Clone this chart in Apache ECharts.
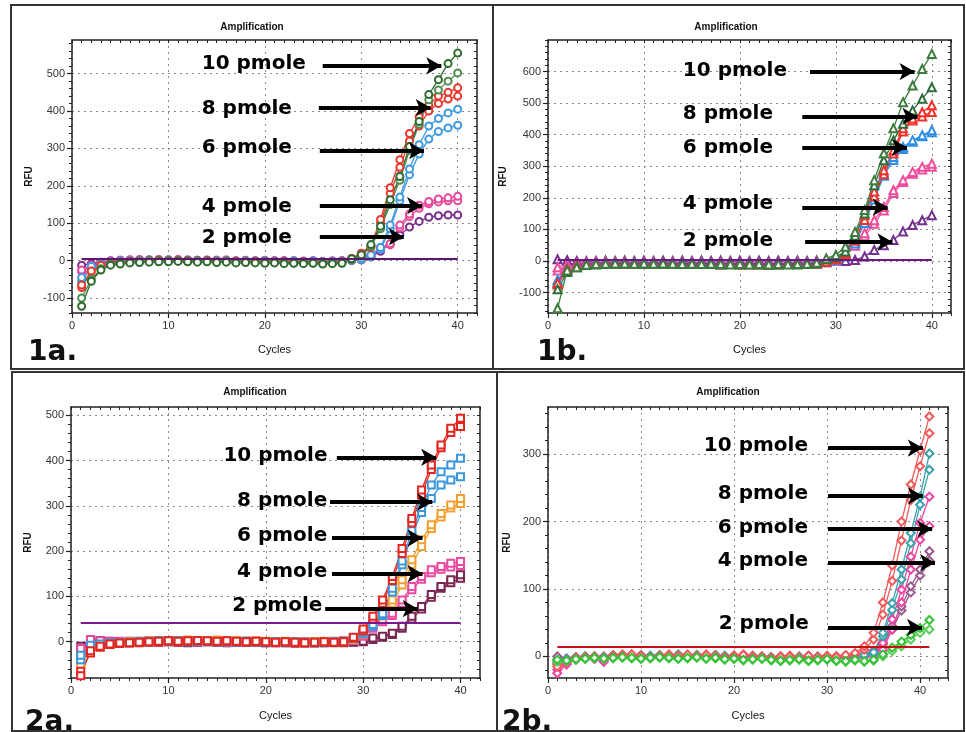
<!DOCTYPE html>
<html>
<head>
<meta charset="utf-8">
<title>Amplification</title>
<script src="https://cdn.jsdelivr.net/npm/echarts@6/dist/echarts.min.js"></script>
<style>
  html, body { margin: 0; padding: 0; background: #fff; }
  #main { width: 966px; height: 732px; }
</style>
</head>
<body>
<div id="main"></div>
<script>
// cycle numbers (x)
var cycles = [1,2,3,4,5,6,7,8,9,10,11,12,13,14,15,16,17,18,19,20,21,22,23,24,25,26,27,28,29,30,31,32,33,34,35,36,37,38,39,40,41];

// ---- 1a (circles) ----
var g1_1a = [-122,-55,-25,-12,-9,-6,-5,-4,-3,-3,-2,-3,-4,-3,-5,-4,-6,-5,-6,-7,-6,-8,-7,-8,-7,-9,-8,-7,5,16,43,92,163,225,305,372,444,484,527,555];
var g2_1a = [-100,-50,-22,-10,-7,-4,-2,-1,0,-1,0,-2,-1,-2,-3,-2,-4,-3,-4,-5,-4,-5,-6,-5,-6,-7,-6,-5,3,12,38,85,150,215,295,365,430,456,480,502];
var r1_1a = [-65,-28,-12,-6,-4,-2,-1,0,1,0,1,0,-1,0,-2,-1,-2,-3,-2,-3,-4,-3,-4,-3,-5,-4,-5,-3,6,20,40,110,195,270,340,385,415,440,450,462];
var r2_1a = [-72,-30,-14,-7,-5,-3,-2,-1,0,-1,0,-1,-2,-1,-2,-2,-3,-2,-3,-4,-3,-4,-5,-4,-5,-5,-6,-4,4,16,35,100,180,250,320,360,400,420,432,440];
var b1_1a = [-45,-15,-8,-3,-1,0,1,2,1,2,1,2,0,1,0,1,-1,0,-1,0,-1,-2,-1,-2,-1,-3,-2,-1,2,5,15,35,95,170,245,310,360,380,395,405];
var b2_1a = [-55,-18,-10,-4,-2,-1,0,1,0,1,0,1,-1,0,-1,0,-2,-1,-2,-1,-2,-3,-2,-3,-2,-4,-3,-2,1,3,10,30,85,160,230,285,325,345,355,362];
var p1_1a = [-25,-12,-5,-1,1,2,3,2,3,2,3,2,1,2,1,2,0,1,0,1,0,-1,0,-1,0,-2,-1,0,1,3,15,35,45,95,125,148,158,165,168,172];
var p2_1a = [-30,-15,-6,-2,0,1,2,1,2,1,2,1,0,1,0,1,-1,0,-1,0,-1,-2,-1,-2,-1,-3,-2,-1,0,2,12,30,42,88,118,140,152,157,160,160];
var v_1a  = [-12,-8,-4,0,1,2,1,2,1,2,1,0,1,0,1,0,-1,0,-1,0,-1,0,-1,-2,-1,-2,-1,0,1,2,10,25,45,68,90,105,116,120,122,122];

// ---- 1b (triangles) ----
var g1_1b = [-150,-30,-20,-12,-10,-9,-8,-8,-9,-8,-9,-8,-9,-10,-9,-10,-9,-10,-11,-10,-11,-10,-11,-10,-11,-10,-9,-6,8,19,45,92,161,256,341,420,503,556,608,656];
var g2_1b = [-90,-35,-20,-13,-11,-10,-9,-9,-8,-9,-8,-9,-10,-9,-10,-9,-10,-11,-10,-11,-10,-11,-12,-11,-10,-11,-10,-8,5,12,30,80,150,240,319,382,435,477,514,550];
var r1_1b = [-70,-25,-15,-10,-9,-8,-7,-8,-7,-8,-9,-8,-9,-8,-9,-10,-9,-10,-9,-10,-11,-10,-11,-10,-9,-10,-9,-8,-2,8,25,75,145,220,287,350,420,451,471,493];
var r2_1b = [-75,-28,-16,-11,-10,-9,-8,-9,-8,-9,-8,-9,-10,-9,-10,-9,-10,-11,-10,-11,-10,-11,-10,-11,-10,-9,-10,-8,-3,6,20,65,130,205,275,340,410,445,458,472];
var b1_1b = [-60,-22,-14,-9,-8,-7,-6,-7,-6,-7,-8,-7,-8,-7,-8,-9,-8,-9,-8,-9,-10,-9,-10,-9,-8,-9,-8,-7,-3,5,20,65,130,205,280,329,361,382,398,414];
var b2_1b = [-65,-24,-15,-10,-9,-8,-7,-8,-7,-8,-7,-8,-9,-8,-9,-8,-9,-10,-9,-10,-9,-10,-9,-10,-9,-8,-9,-7,-4,3,15,55,120,195,270,320,355,378,395,408];
var p1_1b = [-20,-10,-8,-6,-5,-4,-5,-4,-5,-6,-5,-6,-5,-6,-7,-6,-7,-6,-7,-8,-7,-8,-7,-8,-7,-6,-7,-5,-3,2,25,57,88,129,171,224,256,282,298,308];
var p2_1b = [-30,-14,-9,-7,-6,-5,-6,-5,-6,-5,-6,-7,-6,-7,-6,-7,-8,-7,-8,-7,-8,-7,-8,-9,-8,-7,-6,-5,-4,0,18,48,78,118,160,215,250,276,290,298];
var v_1b  = [5,2,0,-1,0,1,0,1,0,1,0,1,0,1,0,1,0,1,0,1,0,1,0,1,0,1,0,1,0,1,0,3,14,35,50,66,93,114,129,145];

// ---- 2a (squares) ----
var r1_2a = [-75,-20,-10,-5,-3,-2,-1,0,1,2,1,2,3,2,1,2,1,0,1,0,-1,0,-1,-2,-1,0,-1,0,10,28,56,92,144,206,272,335,390,434,471,493];
var r2_2a = [-65,-25,-12,-6,-4,-3,-2,-1,0,1,0,1,2,1,0,1,0,-1,0,-1,-2,-1,-2,-3,-2,-1,-2,-1,8,24,50,85,135,195,262,325,380,428,462,475];
var b1_2a = [-30,-8,-5,-3,-2,-1,0,1,2,1,2,1,2,1,0,1,0,1,0,-1,0,-1,0,-1,-2,-1,0,1,9,22,38,62,118,178,245,296,346,375,390,405];
var b2_2a = [-40,-10,-6,-4,-3,-2,-1,0,1,0,1,0,1,0,-1,0,-1,0,-1,-2,-1,-2,-1,-2,-3,-2,-1,0,7,18,34,58,110,170,235,285,316,346,357,364];
var o1_2a = [-40,-12,-8,-4,-2,0,1,2,3,2,3,4,3,2,4,3,2,1,2,1,0,1,0,-1,0,1,0,1,6,20,41,63,92,137,181,225,258,283,302,316];
var o2_2a = [-50,-15,-9,-5,-3,-1,0,1,2,1,2,3,2,1,3,2,1,0,1,0,-1,0,-1,-2,-1,0,-1,0,5,17,36,57,85,125,170,210,250,275,295,305];
var p1_2a = [-15,5,2,0,1,0,1,2,1,2,3,2,1,2,1,0,1,0,1,0,-1,0,-1,0,-1,0,1,2,5,15,34,48,63,92,122,144,159,166,173,177];
var p2_2a = [-25,2,0,-1,0,-1,0,1,0,1,2,1,0,1,0,-1,0,-1,0,-1,-2,-1,-2,-1,-2,-1,0,1,3,12,30,44,58,85,115,138,152,160,165,168];
var m1_2a = [-10,5,3,1,0,1,0,1,0,1,0,-1,0,1,0,-1,0,1,0,-1,0,-1,-2,-1,0,-1,0,-1,0,1,8,12,19,34,56,78,104,122,137,148];
var m2_2a = [-20,3,2,0,-1,0,-1,0,-1,0,-1,-2,-1,0,-1,-2,-1,0,-1,-2,-1,-2,-3,-2,-1,-2,-1,-2,-1,0,5,10,16,30,50,72,98,118,130,140];

// ---- 2b (diamonds, 41 cycles) ----
var r1_2b = [-15,-8,-3,-2,-1,-3,0,2,3,1,-1,0,2,1,3,0,2,1,-1,0,2,-1,0,-2,-1,0,-2,1,-1,0,-1,2,5,15,35,80,135,200,255,306,356];
var r2_2b = [-12,-6,-2,-1,0,-2,1,3,2,0,-2,1,3,0,2,1,3,0,-2,1,3,0,-1,-3,0,1,-3,0,-2,1,0,1,3,10,25,62,112,172,232,282,331];
var t1_2b = [-8,-5,-2,0,-1,-2,1,2,1,0,1,2,0,3,1,2,0,2,1,-1,1,0,-1,-2,0,-1,-2,0,-1,0,-2,0,1,2,6,35,79,129,183,237,301];
var t2_2b = [-10,-4,-3,-1,0,-1,0,1,2,1,0,1,-1,2,0,1,-1,1,0,-2,0,-1,-2,-1,-1,-2,-1,-1,-2,-1,-1,-1,0,1,4,30,69,114,168,225,277];
var p1_2b = [-25,-12,-4,-2,-4,-8,0,1,3,0,-2,1,0,2,-1,1,0,1,-2,0,1,-2,-1,-3,-1,0,-2,0,-1,-1,0,-2,-1,0,3,20,55,99,148,198,237];
var p2_2b = [-20,-10,-5,-3,-2,-5,1,0,2,-1,-1,0,1,0,0,2,-1,0,-1,1,0,-1,-2,-2,0,-1,-1,1,-2,0,-1,-1,-2,-1,1,10,40,80,129,173,193];
var v1_2b = [0,-3,-2,0,-1,0,2,1,0,2,0,1,0,1,2,0,1,2,0,1,0,1,0,-1,0,-1,0,-1,0,-1,0,-1,0,3,8,20,45,74,104,129,156];
var v2_2b = [-5,-4,-1,-2,0,-1,1,0,1,0,-1,0,1,0,1,-1,0,1,-1,0,-1,0,-1,-2,-1,0,-1,-2,-1,0,-1,0,1,2,6,18,40,68,95,120,142];
var g1_2b = [-5,-6,-4,-3,-2,-3,-2,-1,-2,-3,-2,-1,-2,-3,-2,-1,-3,-2,-4,-3,-5,-4,-3,-5,-6,-5,-4,-6,-5,-4,-6,-7,-5,-7,-5,3,13,22,32,42,54];
var g2_2b = [-8,-7,-5,-4,-3,-4,-3,-2,-3,-4,-3,-2,-3,-4,-3,-2,-4,-3,-5,-4,-6,-5,-4,-6,-7,-6,-5,-7,-6,-5,-7,-8,-6,-8,-6,0,8,15,25,35,40];

// tick labels
var xTicks = [0, 10, 20, 30, 40];
var yTicks1a = [-100, 0, 100, 200, 300, 400, 500];
var yTicks1b = [-100, 0, 100, 200, 300, 400, 500, 600];
var yTicks2a = [0, 100, 200, 300, 400, 500];
var yTicks2b = [0, 100, 200, 300];

// threshold lines [value, last cycle]
var thresholds = [[5, 40], [5, 40], [43, 40], [15, 41]];

// annotations: [text x, text y, arrow start x, arrow end x, arrow y] (data units)
var labels = ['10 pmole', '8 pmole', '6 pmole', '4 pmole', '2 pmole'];
var notes1a = [[13.4,527,26.0,38.3,521],[13.4,406,25.6,37.2,409],[13.4,302,25.7,36.5,294],[13.4,144,25.7,36.3,147],[13.4,61,25.7,34.4,64]];
var notes1b = [[14.0,603,27.3,38.2,600],[14.0,467,26.5,38.5,458],[14.0,357,26.5,37.4,360],[14.0,180,26.5,35.4,170],[14.0,63,26.8,35.9,60]];
var notes2a = [[15.6,410,27.3,37.5,407],[17.0,310,26.6,37.1,308],[17.0,233,26.8,36.1,229],[17.0,154,26.8,36.1,150],[16.5,79,26.1,35.6,73]];
var notes2b = [[16.7,312,30.1,40.3,309],[18.2,241,30.1,40.3,238],[18.2,191,30.1,41.3,189],[18.2,142,30.1,41.6,139],[18.3,49,30.1,40.2,43]];

var panels = [
  { tag: '1a.', box: [72, 40, 405, 273], xMax: 42, yMin: -140, yMax: 590, yTicks: yTicks1a, shape: 'emptyCircle', size: 7,
    curves: [[v_1a, '#7b2d8e'], [p2_1a, '#e8489a'], [p1_1a, '#e8489a'], [b2_1a, '#3d9ae0'], [b1_1a, '#3d9ae0'],
             [r2_1a, '#e8362d'], [r1_1a, '#e8362d'], [g2_1a, '#4c8c4c'], [g1_1a, '#2d6a2d']],
    thrColor: '#5d1570', notes: notes1a, title: [252, 27], tagPos: [28, 353], rfuGap: 38, cyclesGap: 31 },
  { tag: '1b.', box: [548, 40, 403, 273], xMax: 42, yMin: -165, yMax: 700, yTicks: yTicks1b, shape: 'emptyTriangle', size: 8,
    curves: [[v_1b, '#74308f'], [p2_1b, '#ee4c9c'], [p1_1b, '#ee4c9c'], [b2_1b, '#2f8fe6'], [b1_1b, '#2f8fe6'],
             [r2_1b, '#f2302a'], [r1_1b, '#f2302a'], [g2_1b, '#2e6e3e'], [g1_1b, '#3c7c3c']],
    thrColor: '#6a1a80', notes: notes1b, title: [726, 27], tagPos: [537, 353], rfuGap: 40, cyclesGap: 31 },
  { tag: '2a.', box: [71, 407, 409, 271], xMax: 42, yMin: -80, yMax: 518, yTicks: yTicks2a, shape: 'emptyRect', size: 7,
    curves: [[m2_2a, '#7a2753'], [m1_2a, '#7a2753'], [p2_2a, '#ea4aa0'], [p1_2a, '#ea4aa0'], [o2_2a, '#f2a030'], [o1_2a, '#f2a030'],
             [b2_2a, '#3a98dd'], [b1_2a, '#3a98dd'], [r2_2a, '#e3261f'], [r1_2a, '#e3261f']],
    thrColor: '#7a1a90', notes: notes2a, title: [255, 392], tagPos: [25, 723], rfuGap: 38, cyclesGap: 32 },
  { tag: '2b.', box: [548, 407, 400, 271], xMax: 43, yMin: -32, yMax: 370, yTicks: yTicks2b, shape: 'emptyDiamond', size: 8,
    curves: [[v2_2b, '#9c5a90'], [v1_2b, '#9c5a90'], [p2_2b, '#ee44a2'], [p1_2b, '#ee44a2'], [t2_2b, '#3aa3ad'], [t1_2b, '#3aa3ad'],
             [r2_2b, '#f25a5a'], [r1_2b, '#f25a5a'], [g2_2b, '#5ad05a'], [g1_2b, '#35c035']],
    thrColor: '#c81010', notes: notes2b, title: [728, 392], tagPos: [502, 723], rfuGap: 36, cyclesGap: 32 }
];

var axisColor = '#222';
var labelFont = { fontSize: 11, color: '#333', fontFamily: '"Liberation Sans Narrow", "Liberation Sans", Arial, sans-serif' };
var dotted = { show: true, lineStyle: { color: '#8a8a8a', width: 1, type: [2, 4] } };

function steps(from, to, step) {
  var out = [];
  for (var v = Math.ceil(from / step) * step; v <= to; v += step) out.push(v);
  return out;
}

var chart = echarts.init(document.getElementById('main'));
var option = { animation: false, backgroundColor: '#fff', grid: [], xAxis: [], yAxis: [], series: [], graphic: [] };

panels.forEach(function (p, i) {
  option.grid.push({ left: p.box[0], top: p.box[1], width: p.box[2], height: p.box[3], show: false });
  var xMinor = steps(0, p.xMax, 1);
  var yMinor = steps(p.yMin, p.yMax, 20);

  // bottom axis with labels + grid lines
  option.xAxis.push({
    gridIndex: i, type: 'value', min: 0, max: p.xMax, position: 'bottom',
    name: 'Cycles', nameLocation: 'middle', nameGap: p.cyclesGap,
    nameTextStyle: { fontSize: 11, color: '#111', fontFamily: 'Liberation Sans, Arial, sans-serif' },
    axisLine: { show: true, onZero: false, lineStyle: { color: axisColor, width: 1.5 } },
    axisTick: { show: true, length: 5, customValues: xTicks, lineStyle: { color: axisColor, width: 1.2 } },
    axisLabel: Object.assign({ customValues: xTicks, margin: 7 }, labelFont),
    splitLine: dotted
  });
  // bottom minor ticks
  option.xAxis.push({
    gridIndex: i, type: 'value', min: 0, max: p.xMax, position: 'bottom',
    axisLine: { show: false, onZero: false },
    axisTick: { show: true, length: 3, customValues: xMinor, lineStyle: { color: axisColor } },
    axisLabel: { show: false }, splitLine: { show: false }
  });
  // top frame
  option.xAxis.push({
    gridIndex: i, type: 'value', min: 0, max: p.xMax, position: 'top',
    axisLine: { show: true, onZero: false, lineStyle: { color: axisColor, width: 1.5 } },
    axisTick: { show: true, inside: true, length: 3, customValues: xMinor, lineStyle: { color: axisColor } },
    axisLabel: { show: false }, splitLine: { show: false }
  });

  option.yAxis.push({
    gridIndex: i, type: 'value', min: p.yMin, max: p.yMax, position: 'left',
    name: 'RFU', nameLocation: 'middle', nameGap: p.rfuGap, nameRotate: 90,
    nameTextStyle: { fontSize: 10, fontWeight: 'bold', color: '#111', fontFamily: 'Liberation Sans, Arial, sans-serif' },
    axisLine: { show: true, onZero: false, lineStyle: { color: axisColor, width: 1.5 } },
    axisTick: { show: true, length: 5, customValues: p.yTicks, lineStyle: { color: axisColor, width: 1.2 } },
    axisLabel: Object.assign({ customValues: p.yTicks, margin: 7 }, labelFont),
    splitLine: dotted
  });
  option.yAxis.push({
    gridIndex: i, type: 'value', min: p.yMin, max: p.yMax, position: 'left',
    axisLine: { show: false, onZero: false },
    axisTick: { show: true, length: 3, customValues: yMinor, lineStyle: { color: axisColor } },
    axisLabel: { show: false }, splitLine: { show: false }
  });
  option.yAxis.push({
    gridIndex: i, type: 'value', min: p.yMin, max: p.yMax, position: 'right',
    axisLine: { show: true, onZero: false, lineStyle: { color: axisColor, width: 1.5 } },
    axisTick: { show: true, inside: true, length: 3, customValues: yMinor, lineStyle: { color: axisColor } },
    axisLabel: { show: false }, splitLine: { show: false }
  });

  var xi = i * 3, yi = i * 3;

  // threshold line
  option.series.push({
    type: 'line', xAxisIndex: xi, yAxisIndex: yi, data: [], silent: true,
    markLine: {
      silent: true, symbol: ['none', 'none'], label: { show: false },
      lineStyle: { color: p.thrColor, width: 2, type: 'solid' },
      data: [[{ coord: [1, thresholds[i][0]] }, { coord: [thresholds[i][1], thresholds[i][0]] }]]
    }
  });

  p.curves.forEach(function (c) {
    var vals = c[0];
    option.series.push({
      type: 'line', xAxisIndex: xi, yAxisIndex: yi,
      data: vals.map(function (v, k) { return [cycles[k], v]; }),
      symbol: p.shape, symbolSize: p.size, showAllSymbol: true,
      lineStyle: { color: c[1], width: 1.3 },
      itemStyle: { color: c[1], borderWidth: 1.4 },
      silent: true
    });
  });

  // arrows + concentration labels
  option.series.push({
    type: 'line', xAxisIndex: xi, yAxisIndex: yi, data: [], silent: true, z: 10,
    markLine: {
      silent: true, symbol: ['none', 'arrow'], symbolSize: [13, 15], label: { show: false },
      lineStyle: { color: '#000', width: 4, type: 'solid' },
      data: p.notes.map(function (n) { return [{ coord: [n[2], n[4]] }, { coord: [n[3], n[4]] }]; })
    },
    markPoint: {
      silent: true, symbol: 'circle', symbolSize: 1, itemStyle: { color: 'rgba(0,0,0,0)' },
      label: { show: true, position: 'right', distance: 0, formatter: '{b}', color: '#000',
               fontSize: 20, fontWeight: 'bold', fontFamily: 'DejaVu Sans, sans-serif' },
      data: p.notes.map(function (n, k) { return { name: labels[k], coord: [n[0], n[1]] }; })
    }
  });

  option.graphic.push({
    type: 'text', x: p.title[0], y: p.title[1], silent: true,
    style: { text: 'Amplification', align: 'center', verticalAlign: 'middle', fill: '#111',
             font: 'bold 10px "Liberation Sans", Arial, sans-serif' }
  });
  option.graphic.push({
    type: 'text', x: p.tagPos[0], y: p.tagPos[1], silent: true,
    style: { text: p.tag, align: 'left', verticalAlign: 'middle', fill: '#111',
             font: 'bold 28px "DejaVu Sans", sans-serif' }
  });
});

// panel frames
var frames = [[11, 5, 482, 364], [493, 5, 471, 364], [12, 372, 485, 359], [497, 372, 467, 359]];
frames.forEach(function (f) {
  option.graphic.push({
    type: 'rect', silent: true, z: 100,
    shape: { x: f[0], y: f[1], width: f[2], height: f[3] },
    style: { fill: 'none', stroke: '#333', lineWidth: 2 }
  });
});

chart.setOption(option);
</script>
</body>
</html>
